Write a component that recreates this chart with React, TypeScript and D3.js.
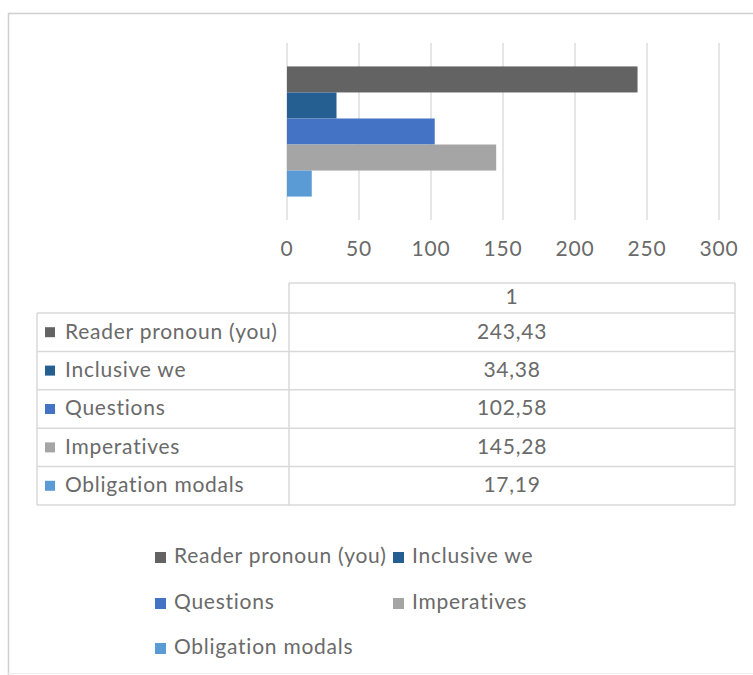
import React from 'react';
import * as d3 from 'd3';

const categories = ["Reader pronoun (you)", "Inclusive we", "Questions", "Imperatives", "Obligation modals"];
const values = [243.43, 34.38, 102.58, 145.28, 17.19];
const colors = ["#636363", "#255E91", "#4472C4", "#A5A5A5", "#5B9BD5"];
const xTicks = [0, 50, 100, 150, 200, 250, 300];
const groups = ["1"];

const W = 753;
const H = 675;
const FONT = "Lato, 'Open Sans', sans-serif";
const TEXT = "#6a6a6a";
const GRID = "#d9d9d9";
const FS = 21;
const LS = 0.75;

const fmt = (v: number) => d3.format(".2f")(v).replace(".", ",");

export default function App() {
  const x = d3.scaleLinear().domain([0, 300]).range([287, 719]);
  const yGroup = d3.scaleBand<string>().domain(groups).range([43, 220]).paddingInner(0).paddingOuter(0.18);
  const g0 = yGroup("1") as number;
  const ySeries = d3.scaleBand<string>().domain(categories).range([g0, g0 + yGroup.bandwidth()]).padding(0);

  // table geometry
  const tLeft = 37, tDiv = 289, tRight = 735, tTop = 283, headerH = 30, rowH = 38.4;
  const rowY = d3.scaleLinear().domain([0, categories.length]).range([tTop + headerH, tTop + headerH + rowH * categories.length]);
  const tBottom = rowY(categories.length);

  // legend layout
  const legendCols = [155, 393];
  const legendRows = [558, 604, 649];

  return (
    <svg width={W} height={H} style={{ position: 'absolute', left: 0, top: 0, background: '#fff' }} fontFamily={FONT} letterSpacing={LS}>
      <rect x={0} y={0} width={W} height={H} fill="#fff" />
      {/* outer chart border */}
      <path d={`M8.5,${H + 5} V13.5 H${W + 5}`} fill="none" stroke="#d0d0d0" strokeWidth={1.5} />
      <line x1={8} x2={W} y1={673.5} y2={673.5} stroke="#eeeeee" strokeWidth={1} />

      {/* gridlines */}
      {xTicks.map(t => (
        <line key={"g" + t} x1={x(t)} x2={x(t)} y1={43} y2={220} stroke={GRID} strokeWidth={1.3} />
      ))}

      {/* bars */}
      {categories.map((c, i) => (
        <rect key={c} x={x(0)} y={ySeries(c)} width={x(values[i]) - x(0)} height={ySeries.bandwidth()} fill={colors[i]} />
      ))}

      {/* tick labels */}
      {xTicks.map(t => (
        <text key={"t" + t} x={x(t)} y={251} textAnchor="middle" dominantBaseline="middle" fontSize={FS} fill={TEXT}>{t}</text>
      ))}

      {/* data table */}
      <g stroke={GRID} strokeWidth={1.5} fill="none">
        <line x1={tDiv} x2={tRight} y1={tTop} y2={tTop} />
        <line x1={tDiv} x2={tDiv} y1={tTop} y2={tBottom} />
        <line x1={tRight} x2={tRight} y1={tTop} y2={tBottom} />
        <line x1={tLeft} x2={tLeft} y1={rowY(0)} y2={tBottom} />
        {d3.range(categories.length + 1).map(i => (
          <line key={"r" + i} x1={tLeft} x2={tRight} y1={rowY(i)} y2={rowY(i)} />
        ))}
      </g>
      {groups.map(gk => (
        <text key={gk} x={(tDiv + tRight) / 2} y={tTop + headerH / 2 + 1} textAnchor="middle" dominantBaseline="middle" fontSize={FS} fill={TEXT}>{gk}</text>
      ))}
      {categories.map((c, i) => {
        const cy = (rowY(i) + rowY(i + 1)) / 2;
        return (
          <g key={"row" + c}>
            <rect x={45} y={cy - 5} width={10} height={10} fill={colors[i]} />
            <text x={65} y={cy + 1} dominantBaseline="middle" fontSize={FS} fill={TEXT}>{c}</text>
            <text x={(tDiv + tRight) / 2} y={cy + 1} textAnchor="middle" dominantBaseline="middle" fontSize={FS} fill={TEXT}>{fmt(values[i])}</text>
          </g>
        );
      })}

      {/* legend */}
      {categories.map((c, i) => {
        const lx = legendCols[i % 2];
        const ly = legendRows[Math.floor(i / 2)];
        return (
          <g key={"lg" + c}>
            <rect x={lx} y={ly - 6} width={11} height={11} fill={colors[i]} />
            <text x={lx + 19} y={ly} dominantBaseline="middle" fontSize={FS} fill={TEXT}>{c}</text>
          </g>
        );
      })}
    </svg>
  );
}
